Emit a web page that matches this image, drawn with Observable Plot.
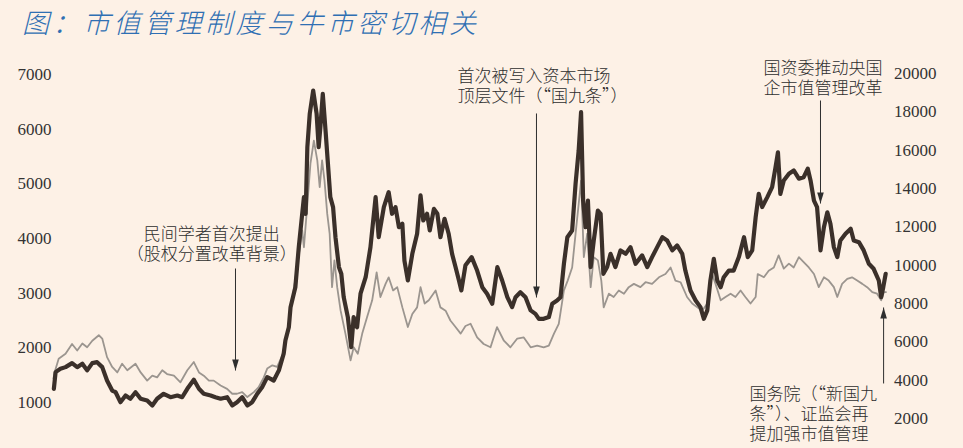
<!DOCTYPE html>
<html><head><meta charset="utf-8">
<script src="https://cdn.jsdelivr.net/npm/d3@7"></script>
<script src="https://cdn.jsdelivr.net/npm/@observablehq/plot@0.6"></script>
<style>
html,body{margin:0;padding:0;background:#fdf1e6;}
#wrap{width:963px;height:448px;overflow:hidden;background:#fdf1e6;}
#title{height:48px;box-sizing:border-box;padding:5px 0 0 22px;font-family:"Noto Sans CJK SC";font-style:italic;font-weight:300;font-size:27px;letter-spacing:3.5px;color:#2f6fb3;line-height:34px;white-space:nowrap;}
</style></head><body>
<div id="wrap"><div id="title">图：市值管理制度与牛市密切相关</div><div id="chart"></div></div>
<script>
// Dark line (right axis, 2000–20000)
const darkYears = [2000.04,2000.09,2000.23,2000.38,2000.57,2000.72,2000.87,2001.01,2001.16,2001.30,2001.45,2001.59,2001.74,2001.84,2001.98,2002.13,2002.27,2002.42,2002.57,2002.76,2002.91,2003.05,2003.24,2003.44,2003.64,2003.78,2003.93,2004.12,2004.27,2004.41,2004.61,2004.75,2004.90,2005.09,2005.24,2005.38,2005.53,2005.68,2005.82,2005.97,2006.11,2006.26,2006.36,2006.45,2006.60,2006.74,2006.79,2006.89,2006.94,2007.08,2007.18,2007.28,2007.33,2007.38,2007.43,2007.50,2007.60,2007.70,2007.76,2007.81,2007.88,2007.96,2008.03,2008.10,2008.18,2008.25,2008.35,2008.42,2008.49,2008.61,2008.71,2008.78,2008.88,2008.98,2009.13,2009.27,2009.42,2009.51,2009.66,2009.80,2009.90,2010.00,2010.10,2010.20,2010.26,2010.36,2010.49,2010.63,2010.73,2010.81,2010.92,2011.00,2011.12,2011.22,2011.31,2011.43,2011.55,2011.65,2011.75,2011.85,2011.92,2012.04,2012.22,2012.38,2012.53,2012.67,2012.82,2012.97,2013.11,2013.26,2013.40,2013.50,2013.64,2013.79,2013.94,2014.08,2014.18,2014.32,2014.47,2014.57,2014.71,2014.81,2014.91,2015.01,2015.15,2015.25,2015.34,2015.41,2015.47,2015.54,2015.61,2015.69,2015.78,2015.90,2015.98,2016.06,2016.17,2016.27,2016.41,2016.56,2016.71,2016.85,2017.00,2017.19,2017.34,2017.48,2017.63,2017.78,2017.92,2018.07,2018.21,2018.36,2018.45,2018.60,2018.75,2018.89,2018.99,2019.09,2019.18,2019.28,2019.38,2019.48,2019.57,2019.72,2019.86,2020.01,2020.16,2020.27,2020.40,2020.50,2020.59,2020.69,2020.84,2020.98,2021.08,2021.15,2021.22,2021.32,2021.47,2021.61,2021.76,2021.90,2022.02,2022.10,2022.20,2022.29,2022.39,2022.49,2022.59,2022.68,2022.78,2022.88,2022.97,2023.12,2023.27,2023.36,2023.51,2023.65,2023.80,2023.94,2024.09,2024.16,2024.22,2024.29];
const darkValues = [3550,4420,4590,4680,4890,4680,4860,4510,4890,4940,4680,3980,3460,3370,2850,3200,3030,3370,3030,2940,2680,3030,3290,3110,3200,3110,3550,4020,3550,3290,3200,3110,3030,3110,2680,2850,3110,2680,2850,3290,3630,4160,4070,3980,4510,5380,6070,6760,7810,8850,10940,12680,13550,12680,16160,17900,19110,17900,16160,17200,18940,17030,15290,13550,13030,11460,9900,9550,8330,7290,5720,7290,6760,8510,9370,10940,13550,11460,13030,13810,12680,13030,11980,12160,10240,9200,10590,11640,13640,12330,12680,11810,12940,12680,11460,12420,11640,10590,9900,9200,8680,10000,10420,9720,8850,8510,7990,9900,9200,8330,7810,8330,8590,8330,7640,7460,7200,7200,7290,7990,8160,8330,10070,11460,11810,14250,15980,17980,13370,11980,13370,9900,11290,12850,12680,9550,9900,10590,9900,10770,10590,10940,10070,10510,9900,10420,10940,11460,11290,10770,11030,10590,9720,8680,8160,7810,7200,7640,9200,10330,9200,8850,9370,9720,9720,10420,11460,10420,10770,12500,13720,13030,13550,14070,15110,15890,13720,14420,14770,14940,14510,14590,15030,14420,13370,13030,10770,11980,12760,12160,10940,10420,11290,11640,11900,11290,11200,10770,10070,9810,9200,8330,8850,9550];
// Gray line (left axis, 1000–7000)
const grayYears = [2000.03,2000.06,2000.18,2000.38,2000.57,2000.72,2000.87,2001.01,2001.16,2001.35,2001.45,2001.59,2001.74,2001.89,2002.03,2002.18,2002.42,2002.57,2002.76,2002.91,2003.05,2003.20,2003.34,2003.54,2003.73,2003.93,2004.12,2004.27,2004.41,2004.56,2004.70,2004.90,2005.09,2005.24,2005.38,2005.53,2005.68,2005.87,2006.01,2006.16,2006.26,2006.41,2006.55,2006.70,2006.84,2006.99,2007.13,2007.28,2007.33,2007.43,2007.52,2007.62,2007.72,2007.79,2007.86,2007.93,2008.01,2008.08,2008.15,2008.22,2008.30,2008.40,2008.54,2008.69,2008.78,2008.90,2009.03,2009.17,2009.32,2009.45,2009.56,2009.71,2009.80,2009.93,2010.05,2010.20,2010.36,2010.49,2010.63,2010.73,2010.85,2010.97,2011.17,2011.31,2011.46,2011.60,2011.75,2011.90,2012.04,2012.19,2012.38,2012.57,2012.77,2012.96,2013.16,2013.35,2013.55,2013.74,2013.94,2014.13,2014.32,2014.47,2014.62,2014.76,2014.91,2015.02,2015.15,2015.25,2015.34,2015.41,2015.49,2015.59,2015.69,2015.78,2015.90,2016.00,2016.07,2016.22,2016.36,2016.51,2016.66,2016.80,2016.95,2017.14,2017.29,2017.48,2017.68,2017.87,2018.02,2018.16,2018.31,2018.50,2018.65,2018.80,2018.94,2019.09,2019.23,2019.33,2019.48,2019.62,2019.77,2019.91,2020.06,2020.20,2020.35,2020.50,2020.56,2020.74,2020.88,2021.03,2021.17,2021.32,2021.47,2021.61,2021.76,2021.90,2022.05,2022.20,2022.34,2022.49,2022.63,2022.78,2022.88,2023.02,2023.17,2023.31,2023.46,2023.61,2023.75,2023.90,2024.04,2024.16,2024.24,2024.30];
const grayValues = [1440,1550,1800,1890,2070,1950,2080,2010,2130,2230,2170,1830,1650,1550,1710,1590,1710,1550,1400,1490,1460,1590,1520,1490,1370,1590,1740,1550,1490,1400,1400,1310,1250,1160,1160,1190,1100,1190,1280,1460,1620,1680,1650,1860,2260,2870,3470,4150,3840,4630,5370,5790,5430,4940,5430,5060,4450,4090,3110,3600,3110,2680,2260,1770,2010,1890,2260,2560,2870,3380,2930,3170,3290,3050,3110,2740,2380,2620,2740,3110,2810,2870,3050,2740,2680,2500,2380,2260,2400,2440,2190,2070,2010,2380,2130,2010,2170,2190,2010,2040,2010,2040,2260,2440,3050,3230,3470,4090,4630,5060,3660,4090,3110,3660,3600,3230,2740,2990,2930,3050,2990,3110,3170,3110,3200,3170,3290,3350,3470,3230,3200,2930,2810,2740,2680,2810,3350,3170,2870,2930,2990,2930,3050,2930,2810,2930,3350,3290,3410,3470,3690,3450,3540,3470,3660,3570,3470,3350,3110,3290,3230,3110,2930,3170,3260,3290,3230,3170,3110,3020,2990,2870,3020,3020];
const leftTicks = [1000,2000,3000,4000,5000,6000,7000];
const rightTicks = [2000,4000,6000,8000,10000,12000,14000,16000,18000,20000];
const noteTexts = [
  "民间学者首次提出\n（股权分置改革背景）",
  "首次被写入资本市场\n顶层文件（“国九条”）",
  "国资委推动央国\n企市值管理改革",
  "国务院（“新国九\n条”）、证监会再\n提加强市值管理"
];

// right-axis value -> left-axis units (shared y scale)
const toLeft = r => 6.1 + 0.35061 * r;
const fromLeft = l => (l - 6.1) / 0.35061;

const dark = darkYears.map((x, i) => ({x, v: toLeft(darkValues[i])}));
const gray = grayYears.map((x, i) => ({x, v: grayValues[i]}));

const ink = "#2e2e2e";
const cjk = "Noto Sans CJK SC";
const downHead = {draw(c){c.moveTo(0,0);c.lineTo(-3.3,-11);c.lineTo(3.3,-11);c.closePath();}};
const upHead = {draw(c){c.moveTo(0,0);c.lineTo(-3.3,11);c.lineTo(3.3,11);c.closePath();}};

function arrow(x, yFrom, yTip, head) {
  return [
    Plot.link([0], {x1: () => x, x2: () => x, y1: () => yFrom, y2: () => yTip, stroke: ink, strokeWidth: 1}),
    Plot.dot([0], {x: () => x, y: () => yTip, symbol: head, fill: ink, stroke: "none", r: 3})
  ];
}
function note(i, x, y, anchor) {
  return Plot.text([noteTexts[i]], {x: () => x, y: () => y, text: d => d, textAnchor: anchor,
    lineAnchor: "middle", lineHeight: 1.18, fontFamily: cjk, fontWeight: 300, fontSize: 17, fill: ink});
}

const chart = Plot.plot({
  width: 963, height: 400,
  marginLeft: 52, marginRight: 77.5, marginTop: 26, marginBottom: 46,
  x: {domain: [2000, 2024.3], axis: null},
  y: {domain: [1000, 7000]},
  style: {background: "transparent", fontFamily: "Liberation Serif", fontSize: "17px", color: ink, overflow: "visible"},
  marks: [
    Plot.axisY(leftTicks, {anchor: "left", tickSize: 0, tickPadding: 1, tickFormat: d => String(d), label: null, fontSize: 17, color: "#333"}),
    Plot.axisY(rightTicks.map(toLeft), {anchor: "right", tickSize: 0, tickPadding: 8, tickFormat: d => String(Math.round(fromLeft(d) / 1000) * 1000), label: null, fontSize: 17, color: "#333"}),
    Plot.line(gray, {x: "x", y: "v", stroke: "#9b958f", strokeWidth: 1.8, strokeLinejoin: "round"}),
    Plot.line(dark, {x: "x", y: "v", stroke: "#3b302a", strokeWidth: 4.2, strokeLinejoin: "round"}),
    ...arrow(2005.335, 3451, 1585, downHead),
    ...arrow(2014.11, 6287, 2921, downHead),
    ...arrow(2022.39, 6524, 4640, downHead),
    ...arrow(2024.23, 1348, 2738, upHead),
    note(0, 2004.64, 3909, "middle"),
    note(1, 2011.81, 6799, "start"),
    note(2, 2020.73, 6945, "start"),
    note(3, 2020.32, 799, "start")
  ]
});
document.getElementById("chart").appendChild(chart);
</script>
</body></html>
